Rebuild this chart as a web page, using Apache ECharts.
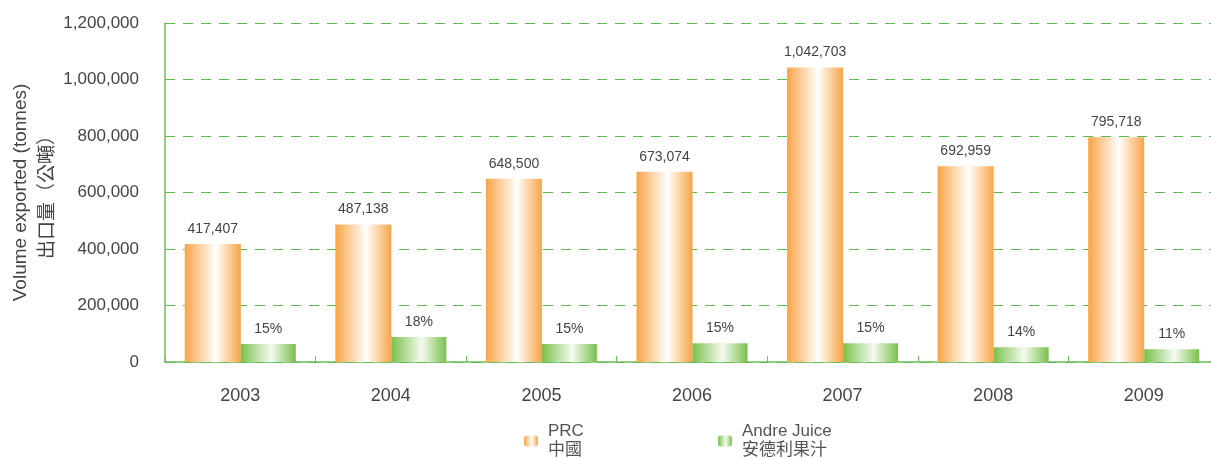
<!DOCTYPE html>
<html>
<head>
<meta charset="utf-8">
<script src="https://cdn.jsdelivr.net/npm/echarts@6/dist/echarts.min.js"></script>
<style>
  html, body { margin: 0; padding: 0; background: #fff; }
  #chart { width: 1211px; height: 458px; }
</style>
</head>
<body>
<div id="chart"></div>
<script>
// 年份
const years = ["2003", "2004", "2005", "2006", "2007", "2008", "2009"];
// 中國出口量 (tonnes)
const prcVolume = [417407, 487138, 648500, 673074, 1042703, 692959, 795718];
// 安德利果汁出口量 (估計值，從圖上讀取)
const andreVolume = [63700, 88500, 63700, 66000, 66000, 52000, 45000];
// 安德利佔比標籤
const andreShare = ["15%", "18%", "15%", "15%", "15%", "14%", "11%"];

const FONT = "'Liberation Sans', 'Noto Sans CJK TC', sans-serif";

function stripe(edge, mid) {
  return new echarts.graphic.LinearGradient(0, 0, 1, 0, [
    { offset: 0, color: edge },
    { offset: 0.55, color: mid },
    { offset: 1, color: edge },
  ]);
}

const legendText = {
  fontSize: 17,
  color: "#555",
  fontFamily: FONT,
  lineHeight: 19,
  padding: [2, 0, 0, 5],
};

let myChart = echarts.init(document.getElementById("chart"));
myChart.setOption({
  animation: false,
  grid: {
    left: 165,
    right: -8,
    top: 23,
    bottom: 96,
    containLabel: false,
    outerBoundsMode: "none",
  },
  legend: [
    {
      data: ["PRC\n中國"],
      left: 524,
      top: 421,
      padding: 0,
      itemGap: 0,
      itemWidth: 14,
      itemHeight: 11,
      textStyle: legendText,
    },
    {
      data: ["Andre Juice\n安德利果汁"],
      left: 718,
      top: 421,
      padding: 0,
      itemGap: 0,
      itemWidth: 14,
      itemHeight: 11,
      textStyle: legendText,
    },
  ],
  xAxis: {
    type: "category",
    data: years,
    axisLine: {
      lineStyle: { color: "#6cc05a", width: 1.5 },
    },
    axisTick: {
      show: true,
      inside: true,
      length: 6,
      lineStyle: { color: "#6cc05a" },
    },
    axisLabel: {
      margin: 25,
      fontSize: 18,
      color: "#444",
      fontFamily: FONT,
    },
  },
  yAxis: {
    type: "value",
    min: 0,
    max: 1200000,
    interval: 200000,
    name: "Volume exported (tonnes)\n出口量（公噸）",
    nameLocation: "middle",
    nameRotate: 90,
    nameGap: 104,
    nameMoveOverlap: false,
    nameTextStyle: {
      fontSize: 19,
      color: "#444",
      fontFamily: FONT,
      lineHeight: 27,
    },
    axisLine: {
      show: true,
      lineStyle: { color: "#6cc05a", width: 1.5 },
    },
    axisTick: { show: false },
    axisLabel: {
      margin: 26,
      fontSize: 17,
      color: "#444",
      fontFamily: FONT,
      formatter: function (v) {
        return v.toLocaleString("en-US");
      },
    },
    splitLine: {
      show: true,
      lineStyle: {
        color: "#5cbb4e",
        width: 1.2,
        type: [10, 8],
      },
    },
  },
  series: [
    {
      name: "PRC\n中國",
      type: "bar",
      data: prcVolume,
      barWidth: 56,
      barGap: "0%",
      itemStyle: { color: stripe("#f9a446", "#ffffff") },
      label: {
        show: true,
        position: "top",
        distance: 8,
        fontSize: 14,
        color: "#444",
        fontFamily: FONT,
        formatter: function (p) {
          return p.value.toLocaleString("en-US");
        },
      },
    },
    {
      name: "Andre Juice\n安德利果汁",
      type: "bar",
      data: andreVolume,
      barWidth: 55,
      itemStyle: { color: stripe("#79c04b", "#f4faf0") },
      label: {
        show: true,
        position: "top",
        distance: 8,
        fontSize: 14,
        color: "#444",
        fontFamily: FONT,
        formatter: function (p) {
          return andreShare[p.dataIndex];
        },
      },
    },
  ],
});
</script>
</body>
</html>
